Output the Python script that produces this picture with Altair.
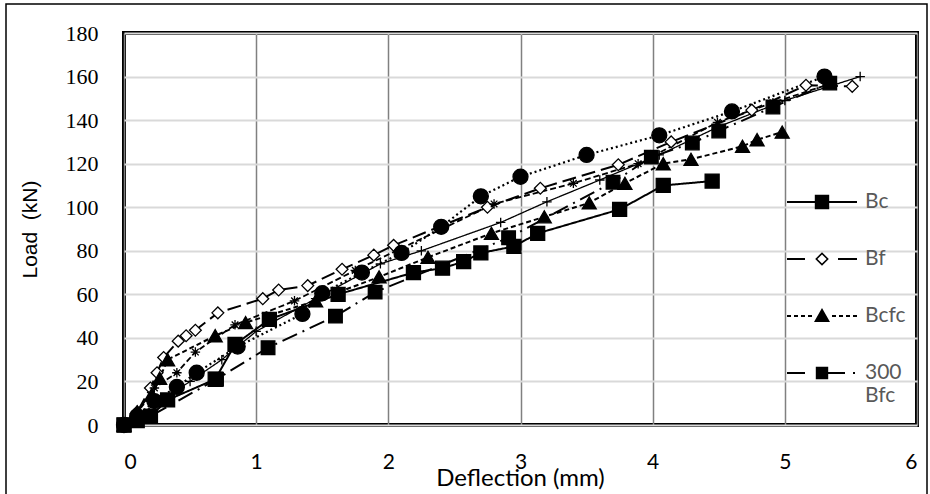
import altair as alt
import pandas as pd

# ---------------- data ----------------
series_names = ["Bc", "Bf", "Bcfc", "300 Bfc", "Series 5", "Series 6", "Series 7"]
legend_values = ["Bc", "Bf", "Bcfc", "300 Bfc"]

bc_x = [0, 0.1, 0.2, 0.33, 0.69, 0.84, 1.1, 1.62, 2.19, 2.41, 2.57, 2.7, 2.95, 3.13, 3.75, 4.08, 4.45]
bc_y = [0, 2, 4, 11.5, 21, 37, 48.5, 60, 70, 72, 75, 79, 82, 88, 99, 110, 112]

bf_x = [0, 0.1, 0.2, 0.25, 0.3, 0.41, 0.47, 0.54, 0.71, 1.05, 1.17, 1.39, 1.65, 1.89, 2.04, 2.75, 3.15, 3.74, 4.14, 4.75, 5.16, 5.51]
bf_y = [0, 6, 17, 24, 31, 38.5, 41, 43.5, 51.5, 58, 62, 64, 71.5, 78, 82.5, 100, 108.7, 119.5, 130, 144.6, 156, 155.5]

bcfc_x = [0, 0.1, 0.21, 0.27, 0.33, 0.69, 0.92, 1.45, 1.93, 2.3, 2.78, 3.18, 3.52, 3.79, 4.08, 4.29, 4.68, 4.79, 4.98]
bcfc_y = [0, 6, 14, 21.5, 30, 41, 47, 57, 68, 77, 88, 95.6, 102, 111, 120, 122, 128, 131, 134.5]

b300_x = [0, 0.2, 0.7, 1.09, 1.6, 1.9, 2.91, 3.7, 3.99, 4.3, 4.5, 4.91, 5.34]
b300_y = [0, 4, 21, 35.5, 50, 61, 86, 111.5, 123, 129.5, 135, 146, 157]

s5_x = [0, 0.1, 0.23, 0.4, 0.55, 0.86, 1.35, 1.5, 1.8, 2.1, 2.4, 2.7, 3.0, 3.5, 4.05, 4.6, 5.3]
s5_y = [0, 4, 11, 17.5, 24, 36, 51, 60.5, 70, 79, 91, 105, 114, 124, 133, 144, 160]

s6_x = [0, 0.1, 0.23, 0.4, 0.54, 0.84, 1.29, 1.75, 2.8, 3.4, 3.89, 4.49, 4.91, 5.36]
s6_y = [0, 6, 17, 24, 33.5, 46, 57, 71, 101.5, 111, 120, 139, 148, 157]

s7_x = [0, 0.1, 0.3, 0.5, 0.74, 1.0, 1.45, 1.94, 2.25, 2.85, 3.2, 3.6, 4.05, 4.5, 5.0, 5.57]
s7_y = [0, 4, 12, 20, 30, 43, 58, 74, 80, 93, 102.5, 112.5, 124, 137, 149, 160]

all_x = [bc_x, bf_x, bcfc_x, b300_x, s5_x, s6_x, s7_x]
all_y = [bc_y, bf_y, bcfc_y, b300_y, s5_y, s6_y, s7_y]

x_ticks = [0, 1, 2, 3, 4, 5, 6]
y_ticks = [0, 20, 40, 60, 80, 100, 120, 140, 160, 180]

rows = []
for name, xs, ys in zip(series_names, all_x, all_y):
    for i, (a, b) in enumerate(zip(xs, ys)):
        rows.append({"series": name, "defl": a, "load": b, "idx": i})
df = pd.DataFrame(rows)

# ---------------- styles ----------------
AST = "M-1,0L1,0M0,-1L0,1M-0.7,-0.7L0.7,0.7M-0.7,0.7L0.7,-0.7"
PLUS = "M-1,0L1,0M0,-1L0,1"
styles = {
    "Bc": dict(dash=[1, 0], width=2, shape="square", size=196, fill="black"),
    "Bf": dict(dash=[14, 6], width=2, shape="diamond", size=140, fill="white"),
    "Bcfc": dict(dash=[5, 3], width=2, shape="triangle-up", size=196, fill="black"),
    "300 Bfc": dict(dash=[16, 6, 2, 6], width=2, shape="square", size=185, fill="black"),
    "Series 5": dict(dash=[2, 3], width=2.2, shape="circle", size=225, fill="black"),
    "Series 6": dict(dash=[6, 3], width=1.8, shape=AST, size=90, fill="black"),
    "Series 7": dict(dash=[1, 0], width=1.3, shape=PLUS, size=90, fill="black"),
}


# legend glyphs: line + marker as one filled custom path (1 unit = 20 px)
def hseg(a, b, t=0.05):
    return f"M{a},{-t}L{b},{-t}L{b},{t}L{a},{t}Z"


def sq(s):
    return f"M{-s},{-s}L{s},{-s}L{s},{s}L{-s},{s}Z"


def diamond_ring(o, i):
    return (f"M0,{-o}L{o},0L0,{o}L{-o},0Z"
            f"M0,{-i}L{-i},0L0,{i}L{i},0Z")


LG_BC = hseg(-1.75, 1.75) + sq(0.36)
LG_BF = hseg(-1.75, -0.85) + hseg(0.8, 1.75) + diamond_ring(0.34, 0.23)
LG_BCFC = ("".join(hseg(a, a + 0.2) for a in [-1.75, -1.4, -1.05, -0.7])
           + "".join(hseg(a, a + 0.2) for a in [0.5, 0.85, 1.2, 1.55])
           + "M0,-0.4L0.4,0.3L-0.4,0.3Z")
LG_300 = hseg(-1.75, -0.85) + sq(0.31) + hseg(0.3, 1.15) + hseg(1.55, 1.65)
legend_paths = [LG_BC, LG_BF, LG_BCFC, LG_300, LG_BC, LG_BC, LG_BC]

# ---------------- encodings ----------------
X = alt.X(
    "defl:Q",
    scale=alt.Scale(domain=[0, 6], nice=False),
    axis=alt.Axis(
        values=x_ticks, title="Deflection (mm)", grid=True, gridColor="#808080",
        gridWidth=1.5, domain=False, ticks=False, labelFont="Lato",
        labelFontSize=21, labelColor="black", labelPadding=26,
        titleFont="Lato", titleFontSize=24, titleFontWeight="normal",
        titleColor="black", titleX=396, titleY=53, titleBaseline="middle",
        titleAlign="center",
    ),
)
Y = alt.Y(
    "load:Q",
    scale=alt.Scale(domain=[0, 180], nice=False),
    axis=alt.Axis(
        values=y_ticks, title="Load\u00a0\u00a0(kN)", grid=True, gridColor="#d9d9d9",
        gridWidth=2, domain=False, ticks=False, labelFont="Liberation Serif",
        labelFontSize=22, labelColor="black", labelPadding=26,
        titleFont="Liberation Sans", titleFontSize=21, titleFontWeight="normal",
        titleColor="black", titleX=-94, titleY=196, titleAngle=-90,
        titleBaseline="middle", titleAlign="center",
    ),
)

base = alt.Chart(df)
layers = []
for name in series_names:
    st = styles[name]
    layers.append(
        base.transform_filter(alt.datum.series == name)
        .mark_line(color="black", strokeDash=st["dash"], strokeWidth=st["width"])
        .encode(x=X, y=Y, order="idx:Q")
    )
for name in series_names:
    st = styles[name]
    layers.append(
        base.transform_filter(alt.datum.series == name)
        .mark_point(shape=st["shape"], size=st["size"], fill=st["fill"],
                    stroke="black", strokeWidth=1.3, opacity=1)
        .encode(x=X, y=Y)
    )

label_expr = "datum.label == '300 Bfc' ? ['300', '\u2007Bfc'] : datum.label"

legend_layer = (
    base.transform_filter("datum.load < 0")
    .mark_point(fill="black", stroke="black", strokeWidth=0, opacity=1)
    .encode(
        x=X, y=Y,
        shape=alt.Shape(
            "series:N",
            scale=alt.Scale(domain=series_names, range=legend_paths),
            legend=alt.Legend(
                values=legend_values, orient="none", legendX=678, legendY=149,
                title=None, symbolSize=1600, symbolStrokeWidth=0,
                symbolFillColor="black", symbolOpacity=1,
                labelFont="Lato", labelFontSize=21,
                labelColor="#595959", labelOffset=23, rowPadding=27,
                padding=0, labelLimit=300, labelExpr=label_expr,
            ),
        ),
    )
)
layers.append(legend_layer)

border = alt.Chart(alt.Data(values=[{}])).mark_rect(
    fillOpacity=0, stroke="black", strokeWidth=1.5
).encode(x=alt.value(-118), x2=alt.value(803), y=alt.value(-29), y2=alt.value(466))
layers.append(border)

chart = (
    alt.layer(*layers)
    .properties(
        width=793, height=392,
        autosize=alt.AutoSizeParams(type="none"),
        padding={"left": 124, "top": 33, "right": 13, "bottom": 69},
        background="white",
    )
    .configure_view(stroke="black", strokeWidth=4)
)

chart.save("out.html", embed_options={"renderer": "svg", "actions": False})
